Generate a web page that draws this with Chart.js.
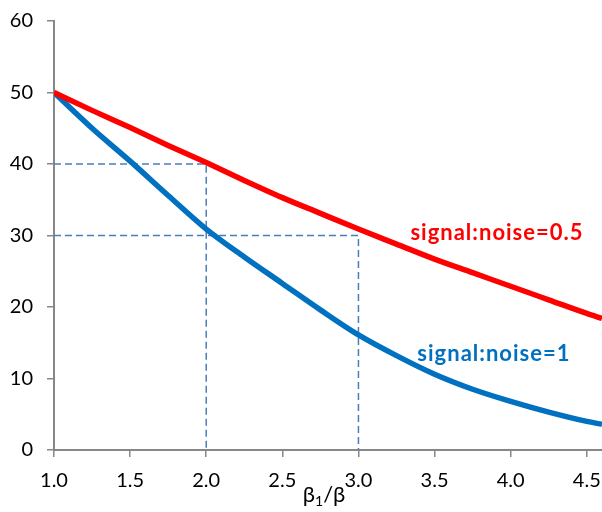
<!DOCTYPE html>
<html>

<head>
    <script src="https://cdn.jsdelivr.net/npm/chart.js"></script>
    <style>
        body { margin: 0; background: #fff; }
        #wrap { width: 602px; height: 512px; }
    </style>
</head>

<body>
    <div id="wrap">
        <canvas id="chartId"></canvas>
    </div>
    <script>
        // values
        const xValues = [1.0, 1.25, 1.5, 1.75, 2.0, 2.25, 2.5, 2.75, 3.0, 3.25, 3.5, 3.75, 4.0, 4.25, 4.5, 4.6];
        const snrHalf = [50, 47.5, 45.1, 42.6, 40.2, 37.7, 35.3, 33.1, 30.9, 28.8, 26.7, 24.8, 22.9, 21.0, 19.1, 18.4];
        const snrOne = [50, 45.0, 40.4, 35.6, 30.9, 27.0, 23.3, 19.6, 16.1, 13.2, 10.6, 8.5, 6.8, 5.3, 4.0, 3.6];
        const guideX = [2.0, 3.0];
        const guideY = [40, 30];
        const seriesNames = ['signal:noise=0.5', 'signal:noise=1'];
        const xTitle = ['β', '1', '/β'];

        const FONT = "Lato, 'Noto Sans', sans-serif";
        const RED = '#ff0000';
        const BLUE = '#0070c0';
        const DASH = '#4a7ebb';
        const AXIS = '#878787';

        // guide lines: horizontal from x=1 to guide, then down to 0
        const guides = guideX.map((gx, i) => ({
            type: 'line',
            data: [{ x: 1.0, y: guideY[i] }, { x: gx, y: guideY[i] }, { x: gx, y: 0 }],
            borderColor: DASH,
            borderWidth: 1.5,
            borderDash: [7, 4],
            pointRadius: 0,
            tension: 0
        }));

        const curve = (vals, color) => ({
            type: 'line',
            data: xValues.map((x, i) => ({ x: x, y: vals[i] })),
            borderColor: color,
            borderWidth: 5.5,
            pointRadius: 0,
            cubicInterpolationMode: 'monotone'
        });

        const textPlugin = {
            id: 'texts',
            afterDraw(chart) {
                const { ctx, scales: { x, y } } = chart;
                ctx.save();
                ctx.textAlign = 'center';
                ctx.textBaseline = 'middle';
                ctx.font = "bold 22px " + FONT;
                ctx.letterSpacing = '1px';
                ctx.fillStyle = RED;
                ctx.fillText(seriesNames[0], x.getPixelForValue(3.91), y.getPixelForValue(30.3));
                ctx.fillStyle = BLUE;
                ctx.fillText(seriesNames[1], x.getPixelForValue(3.89), y.getPixelForValue(13.4));
                ctx.letterSpacing = '0px';

                // axis title with subscript
                ctx.fillStyle = '#000';
                ctx.textAlign = 'left';
                ctx.textBaseline = 'alphabetic';
                const big = "22px " + FONT, small = "14px " + FONT;
                ctx.font = big;
                const w1 = ctx.measureText(xTitle[0]).width;
                const w3 = ctx.measureText(xTitle[2]).width;
                ctx.font = small;
                const w2 = ctx.measureText(xTitle[1]).width;
                let px = 324 - (w1 + w2 + w3) / 2;
                const base = 502;
                ctx.font = big;
                ctx.fillText(xTitle[0], px, base);
                px += w1;
                ctx.font = small;
                ctx.fillText(xTitle[1], px, base + 4);
                px += w2;
                ctx.font = big;
                ctx.fillText(xTitle[2], px, base);
                ctx.restore();
            }
        };

        new Chart(document.getElementById('chartId'), {
            type: 'line',
            data: {
                datasets: [curve(snrHalf, RED), curve(snrOne, BLUE), ...guides]
            },
            options: {
                responsive: true,
                maintainAspectRatio: false,
                animation: false,
                layout: { padding: { top: 21, left: 0, right: 0, bottom: 0 } },
                plugins: {
                    legend: { display: false },
                    tooltip: { enabled: false }
                },
                scales: {
                    x: {
                        type: 'linear',
                        min: 1.0,
                        max: 4.6,
                        afterFit: s => { s.height = 62; s.paddingRight = 0; s.paddingLeft = 0; },
                        grid: { drawOnChartArea: false, color: AXIS, tickLength: 7, lineWidth: 1.5 },
                        border: { color: AXIS, width: 2 },
                        ticks: {
                            stepSize: 0.5,
                            includeBounds: false,
                            maxRotation: 0,
                            autoSkip: false,
                            padding: 12,
                            color: '#000',
                            font: { family: FONT, size: 20 },
                            callback: v => v.toFixed(1)
                        }
                    },
                    y: {
                        min: 0,
                        max: 60,
                        afterFit: s => { s.width = 54; s.paddingTop = 0; s.paddingBottom = 0; },
                        grid: { drawOnChartArea: false, color: AXIS, tickLength: 7, lineWidth: 1.5 },
                        border: { color: AXIS, width: 2 },
                        ticks: {
                            stepSize: 10,
                            padding: 14,
                            color: '#000',
                            font: { family: FONT, size: 20 }
                        }
                    }
                }
            },
            plugins: [textPlugin]
        });
    </script>
</body>

</html>
